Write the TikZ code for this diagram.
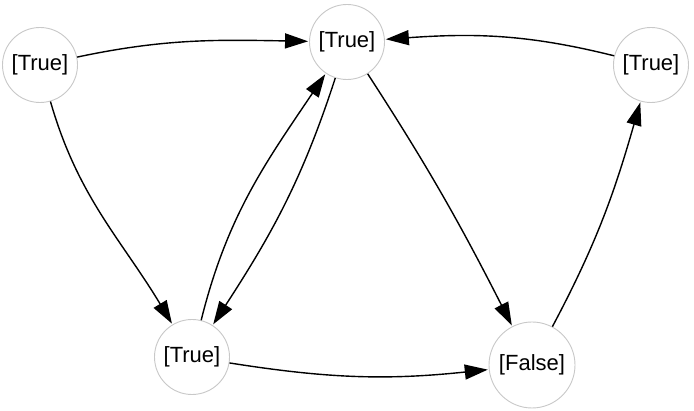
\documentclass[tikz,border=0pt]{standalone}
\usepackage{fontspec}
\setmainfont{Liberation Sans}
\usetikzlibrary{arrows.meta}
\begin{document}
\begin{tikzpicture}[x=1pt,y=-1pt,
  state/.style={circle,draw={rgb,255:red,200;green,200;blue,200},line width=0.9pt,fill=white,inner sep=0pt,minimum size=75pt,font=\fontsize{22}{24}\selectfont},
  big/.style={minimum size=86pt},
  edge/.style={line width=1.4pt,-{Triangle[length=23pt,width=15pt]},shorten >=1pt}]
\useasboundingbox (0,0) rectangle (694,411);
\node[state] (A) at (40,65) {[True]};
\node[state] (B) at (347,42) {[True]};
\node[state] (C) at (651,65) {[True]};
\node[state] (D) at (192,357) {[True]};
\node[state,big] (E) at (532,365) {[False]};
\draw[edge] (A) to[out=12,in=179] (B);
\draw[edge] (C) to[out=166,in=4] (B);
\draw[edge] (A) to[out=-74,in=121] (D);
\draw[edge] (D) to[out=76,in=236] (B);
\draw[edge] (B) to[out=-108,in=57] (D);
\draw[edge] (B) to[out=-57,in=117] (E);
\draw[edge] (D) to[out=-9,in=186] (E);
\draw[edge] (E) to[out=62,in=-106] (C);
\end{tikzpicture}
\end{document}
